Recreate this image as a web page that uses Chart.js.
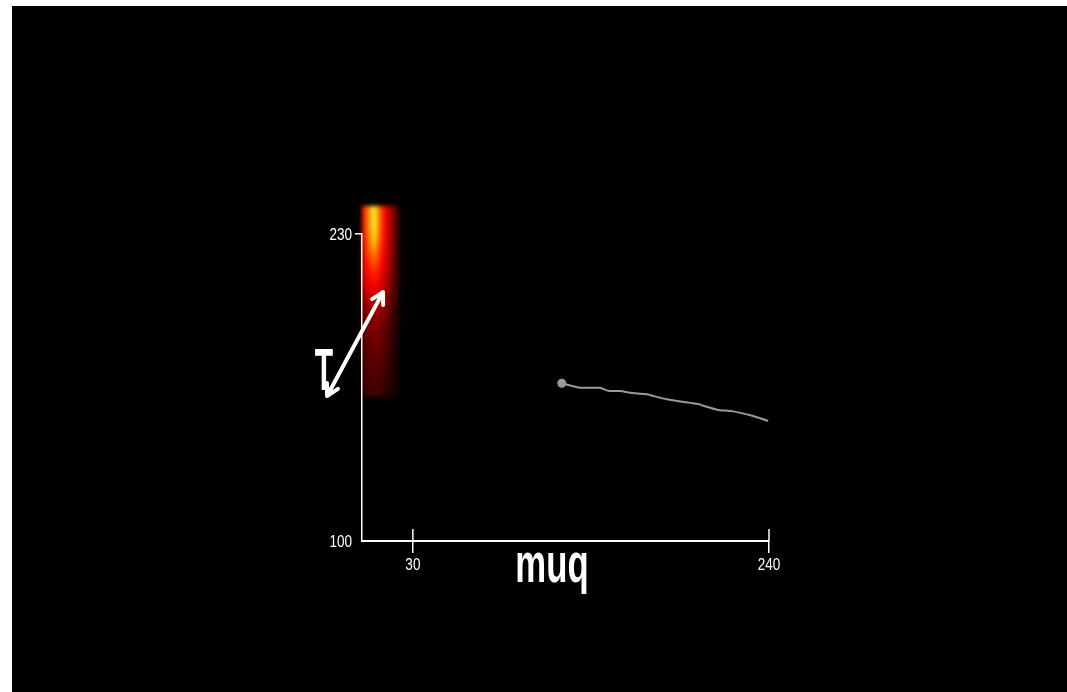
<!DOCTYPE html>
<html>
<head>
<meta charset="utf-8">
<script src="https://cdn.jsdelivr.net/npm/chart.js@4.4.1/dist/chart.umd.min.js"></script>
<style>
  html, body { margin: 0; padding: 0; background: #fff; }
  #wrap { position: absolute; left: 12px; top: 6px; width: 1055px; height: 686px; background: #000; }
</style>
</head>
<body>
<div id="wrap"><canvas id="chart"></canvas></div>
<script>
// tick labels
const xTicks = [30, 240];
const yTicks = [100, 230];

// grey trace (muq, tau)
const lineX = [117.8, 128.6, 140.4, 145.1, 152.2, 158.1, 167.9, 171.7, 179.7, 187.6, 198.2, 201.2, 210.0, 218.1, 230.6, 239.5];
const lineY = [166.8, 164.9, 164.9, 163.6, 163.5, 162.8, 162.1, 161.4, 160.0, 159.1, 158.0, 157.3, 155.5, 155.0, 152.9, 150.8];

// density strip: extent in data units, rows top -> bottom, intensity 0..1
const heatXRange = [0, 22];
const heatYRange = [161, 242];
const heatRows = [
  [0.38, 0.52, 0.74, 0.52, 0.36, 0.28, 0.18, 0.10],
  [0.38, 0.52, 0.72, 0.52, 0.36, 0.28, 0.18, 0.10],
  [0.37, 0.47, 0.62, 0.47, 0.35, 0.27, 0.17, 0.09],
  [0.35, 0.41, 0.49, 0.41, 0.33, 0.25, 0.16, 0.09],
  [0.32, 0.35, 0.39, 0.36, 0.30, 0.23, 0.15, 0.08],
  [0.27, 0.30, 0.32, 0.31, 0.26, 0.20, 0.13, 0.07],
  [0.20, 0.23, 0.24, 0.24, 0.21, 0.16, 0.10, 0.06],
  [0.16, 0.18, 0.19, 0.19, 0.17, 0.13, 0.08, 0.05],
  [0.13, 0.15, 0.16, 0.16, 0.14, 0.10, 0.07, 0.04],
  [0.12, 0.13, 0.14, 0.14, 0.12, 0.09, 0.06, 0.04],
  [0.10, 0.11, 0.12, 0.12, 0.10, 0.08, 0.05, 0.03],
  [0.09, 0.10, 0.11, 0.11, 0.09, 0.07, 0.05, 0.03],
  [0.07, 0.08, 0.09, 0.09, 0.07, 0.05, 0.04, 0.02]
];

// double arrow next to the y title (data units)
const arrowFrom = [-20.6, 161.4];
const arrowTo = [12.4, 205.4];

const labelFont = "16.5px 'Liberation Sans', Arial, sans-serif";

/* "hot" colour map */
function hot(v) {
  const r = Math.min(1, v * 3), g = Math.min(1, Math.max(0, v * 3 - 1)), b = Math.min(1, Math.max(0, v * 3 - 2));
  return [Math.round(r * 255), Math.round(g * 255), Math.round(b * 255)];
}

const heatPlugin = {
  id: 'heat',
  beforeDraw(chart) {
    const { ctx, scales: { x, y } } = chart;
    const rows = heatRows.length, cols = heatRows[0].length;
    const off = document.createElement('canvas');
    off.width = cols; off.height = rows;
    const octx = off.getContext('2d');
    const img = octx.createImageData(cols, rows);
    heatRows.forEach((row, j) => row.forEach((v, i) => {
      const c = hot(v), k = (j * cols + i) * 4;
      img.data[k] = c[0]; img.data[k + 1] = c[1]; img.data[k + 2] = c[2]; img.data[k + 3] = 255;
    }));
    octx.putImageData(img, 0, 0);
    const x0 = x.getPixelForValue(heatXRange[0]), x1 = x.getPixelForValue(heatXRange[1]);
    const y0 = y.getPixelForValue(heatYRange[1]), y1 = y.getPixelForValue(heatYRange[0]);
    ctx.save();
    ctx.imageSmoothingEnabled = true;
    ctx.filter = 'blur(2px)';
    ctx.drawImage(off, x0, y0, x1 - x0, y1 - y0);
    ctx.restore();
  }
};

// squeezed text helper (narrow look)
function narrowText(ctx, text, px, py, sx, align) {
  ctx.save();
  ctx.translate(px, py);
  ctx.scale(sx, 1);
  ctx.textAlign = align;
  ctx.fillText(text, 0, 0);
  ctx.restore();
}

const decorPlugin = {
  id: 'decor',
  afterDraw(chart) {
    const { ctx, chartArea, scales: { x, y } } = chart;
    ctx.save();
    // upper half of the x tick marks
    ctx.strokeStyle = '#fff';
    ctx.lineWidth = 1.5;
    x.ticks.forEach(t => {
      const px = x.getPixelForValue(t.value);
      ctx.beginPath();
      ctx.moveTo(px, chartArea.bottom);
      ctx.lineTo(px, chartArea.bottom - 12);
      ctx.stroke();
    });

    // tick labels from the scales, drawn narrow
    ctx.fillStyle = '#fff';
    ctx.font = labelFont;
    ctx.textBaseline = 'top';
    x.ticks.forEach(t => narrowText(ctx, String(t.value), x.getPixelForValue(t.value), chartArea.bottom + 16, 0.82, 'center'));
    ctx.textBaseline = 'middle';
    y.ticks.forEach(t => narrowText(ctx, String(t.value), chartArea.left - 10, y.getPixelForValue(t.value) + 1, 0.82, 'right'));

    // x title, squeezed
    ctx.textBaseline = 'alphabetic';
    ctx.font = "bold 56px 'Liberation Sans', Arial, sans-serif";
    narrowText(ctx, 'muq', chartArea.left + 190, chartArea.bottom + 41, 0.62, 'center');

    // y title
    ctx.font = "bold 60px 'Liberation Sans', Arial, sans-serif";
    narrowText(ctx, 'T', chartArea.left - 38, chartArea.top + 156, 0.5, 'center');

    // double-headed arrow
    const ax = x.getPixelForValue(arrowFrom[0]), ay = y.getPixelForValue(arrowFrom[1]);
    const bx = x.getPixelForValue(arrowTo[0]), by = y.getPixelForValue(arrowTo[1]);
    const ang = Math.atan2(by - ay, bx - ax);
    ctx.strokeStyle = '#fff';
    ctx.lineWidth = 4;
    ctx.lineCap = 'round';
    ctx.lineJoin = 'round';
    ctx.beginPath();
    ctx.moveTo(ax, ay);
    ctx.lineTo(bx, by);
    [[bx, by, ang], [ax, ay, ang + Math.PI]].forEach(([hx, hy, a]) => {
      ctx.moveTo(hx - 13 * Math.cos(a - 0.5), hy - 13 * Math.sin(a - 0.5));
      ctx.lineTo(hx, hy);
      ctx.lineTo(hx - 13 * Math.cos(a + 0.5), hy - 13 * Math.sin(a + 0.5));
    });
    ctx.stroke();
    ctx.restore();
  }
};

new Chart(document.getElementById('chart'), {
  type: 'line',
  data: {
    datasets: [{
      data: lineX.map((v, i) => ({ x: v, y: lineY[i] })),
      borderColor: '#9a9a9a',
      backgroundColor: '#9a9a9a',
      borderWidth: 2,
      pointRadius: ctx => ctx.dataIndex === 0 ? 3.5 : 0,
      pointHoverRadius: 0,
      tension: 0.2,
      clip: false
    }]
  },
  options: {
    responsive: true,
    maintainAspectRatio: false,
    animation: false,
    events: [],
    layout: { padding: { left: 310, right: 298, top: 228, bottom: 111 } },
    plugins: { legend: { display: false }, tooltip: { enabled: false } },
    scales: {
      x: {
        type: 'linear',
        min: 0,
        max: 240,
        afterBuildTicks: s => { s.ticks = xTicks.map(v => ({ value: v })); },
        afterFit: s => { s.height = 40; },
        border: { display: true, color: '#fff', width: 2 },
        grid: { drawOnChartArea: false, drawTicks: true, tickLength: 12, color: '#fff', lineWidth: 1.5 },
        ticks: { color: 'rgba(0,0,0,0)', font: { size: 16 }, padding: 3, maxRotation: 0 }
      },
      y: {
        type: 'linear',
        min: 100,
        max: 230,
        afterBuildTicks: s => { s.ticks = yTicks.map(v => ({ value: v })); },
        afterFit: s => { s.width = 40; },
        border: { display: true, color: '#fff', width: 1.5 },
        grid: {
          drawOnChartArea: false, drawTicks: true, tickLength: 7, lineWidth: 1.5,
          color: ctx => ctx.tick && ctx.tick.value === 100 ? 'rgba(0,0,0,0)' : '#fff'
        },
        ticks: { color: 'rgba(0,0,0,0)', font: { size: 16 }, padding: 3 }
      }
    }
  },
  plugins: [heatPlugin, decorPlugin]
});
</script>
</body>
</html>
